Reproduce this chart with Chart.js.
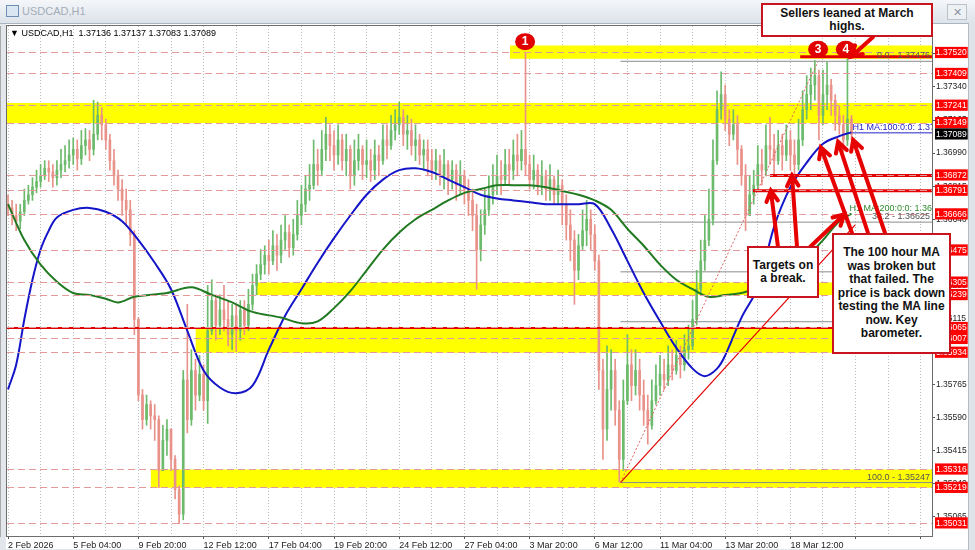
<!DOCTYPE html>
<html>
<head>
<meta charset="utf-8">
<script src="https://cdn.jsdelivr.net/npm/chart.js@4.4.1/dist/chart.umd.min.js"></script>
<style>
  body { margin: 0; background: #fff; }
  #wrap { position: relative; width: 975px; height: 550px; overflow: hidden; font-family: "Liberation Sans", Arial, sans-serif; }
  #c { position: absolute; left: 0; top: 0; }
  #title { position: absolute; left: 0; top: 0; width: 975px; height: 23px; background: linear-gradient(#f4f6f9, #dde3ea); border-bottom: 1px solid #aab3be; }
  #title .ico { position: absolute; left: 6px; top: 5px; width: 11px; height: 10px; border: 1px solid #6f8fb5; background: #dbe6f3; }
  #title .tt { position: absolute; left: 22px; top: 5px; font-size: 11px; color: #a3adb8; }
  #title .x { position: absolute; left: 947px; top: 4px; width: 18px; height: 14px; border: 1px solid #b9c1ca; font-size: 11px; line-height: 14px; text-align: center; color: #8a949f; background: #eef1f4; }
  #info { position: absolute; left: 10px; top: 28px; font-size: 9px; color: #000; white-space: pre; }
  #rframe { position: absolute; left: 968px; top: 23px; width: 7px; height: 527px; background: #dfe4ea; border-left: 1px solid #b3bbc5; }
  .box { position: absolute; box-sizing: border-box; background: #fff; border: 2px solid #c8141e; display: flex; align-items: center; justify-content: center; text-align: center; font-weight: bold; font-size: 12px; line-height: 13.5px; color: #111; }
</style>
</head>
<body>
<div id="wrap">
  <canvas id="c" width="975" height="550"></canvas>
  <div id="title"><span class="ico"></span><span class="tt">USDCAD,H1</span><span class="x">✕</span></div>
  <div id="info">▼ USDCAD,H1  1.37136 1.37137 1.37083 1.37089</div>
  <div id="rframe"></div>
  <div class="box" style="left:761px;top:3px;width:172px;height:34px">Sellers leaned at March<br>highs.</div>
  <div class="box" style="left:747px;top:246px;width:72px;height:52px">Targets on<br>a break.</div>
  <div class="box" style="left:832px;top:233px;width:119px;height:121px">The 100 hour MA<br>was broken but<br>that failed. The<br>price is back down<br>testing the MA line<br>now. Key<br>barometer.</div>
</div>
<script>
// 4-hour candles, first bar 2 Feb 12:00
const timeLabels = ["2 Feb 2026","5 Feb 04:00","9 Feb 20:00","12 Feb 12:00","17 Feb 04:00","19 Feb 20:00","24 Feb 12:00","27 Feb 04:00","3 Mar 20:00","6 Mar 12:00","11 Mar 04:00","13 Mar 20:00","18 Mar 12:00"];
const barsPerLabel = 16;
const firstOpen = 1.3672;
const closes = [
  1.3670,1.3666,1.3663,1.3668,1.3674,1.3677,1.3681,1.3684,
  1.3687,1.3691,1.3689,1.3686,1.3690,1.3693,1.3695,1.3698,
  1.3701,1.3696,1.3703,1.3706,1.3701,1.3709,1.3719,1.3714,
  1.3706,1.3695,1.3687,1.3680,1.3674,1.3669,1.3656,1.3611,
  1.3571,1.3558,1.3566,1.3560,1.3558,1.3531,1.3547,1.3553,
  1.3537,1.3521,1.3508,1.3579,1.3558,1.3584,1.3571,1.3582,
  1.3568,1.3605,1.3621,1.3608,1.3616,1.3611,1.3603,1.3613,
  1.3605,1.3616,1.3608,1.3619,1.3629,1.3635,1.3640,1.3645,
  1.3642,1.3650,1.3645,1.3653,1.3657,1.3649,1.3656,1.3666,
  1.3672,1.3680,1.3682,1.3693,1.3690,1.3701,1.3709,1.3703,
  1.3698,1.3706,1.3695,1.3701,1.3687,1.3695,1.3701,1.3693,
  1.3695,1.3690,1.3698,1.3695,1.3706,1.3703,1.3711,1.3714,
  1.3718,1.3709,1.3711,1.3703,1.3706,1.3698,1.3701,1.3695,
  1.3690,1.3695,1.3687,1.3693,1.3685,1.3690,1.3682,1.3687,
  1.3680,1.3674,1.3666,1.3648,1.3661,1.3669,1.3677,1.3682,
  1.3687,1.3685,1.3693,1.3690,1.3698,1.3695,1.3701,1.3693,
  1.3685,1.3690,1.3682,1.3687,1.3680,1.3685,1.3677,1.3682,
  1.3672,1.3661,1.3653,1.3637,1.3650,1.3658,1.3664,1.3656,
  1.3642,1.3584,1.3553,1.3574,1.3584,1.3563,1.3537,1.3568,
  1.3587,1.3576,1.3584,1.3571,1.3563,1.3555,1.3568,1.3576,
  1.3582,1.3579,1.3587,1.3584,1.3592,1.3587,1.3595,1.3597,
  1.3611,1.3627,1.3642,1.3653,1.3664,1.3695,1.3722,1.3730,
  1.3717,1.3709,1.3714,1.3701,1.3687,1.3666,1.3677,1.3682,
  1.3693,1.3690,1.3703,1.3701,1.3695,1.3703,1.3698,1.3706,
  1.3698,1.3693,1.3706,1.3722,1.3730,1.3735,1.3740,1.3719,
  1.3730,1.3735,1.3727,1.3719,1.3714,1.3706,1.3717,1.37089
];
const highs = [
  1.3677,1.3674,1.3672,1.3672,1.3680,1.3682,1.3686,1.3690,
  1.3693,1.3695,1.3695,1.3693,1.3695,1.3701,1.3703,1.3706,
  1.3707,1.3706,1.3711,1.3712,1.3711,1.3727,1.3726,1.3723,
  1.3717,1.3709,1.3701,1.3690,1.3685,1.3680,1.3674,1.3658,
  1.3612,1.3574,1.3571,1.3568,1.3566,1.3560,1.3555,1.3558,
  1.3553,1.3539,1.3523,1.3584,1.3619,1.3595,1.3590,1.3592,
  1.3587,1.3629,1.3632,1.3624,1.3624,1.3629,1.3621,1.3619,
  1.3619,1.3621,1.3621,1.3627,1.3635,1.3640,1.3648,1.3650,
  1.3653,1.3658,1.3656,1.3661,1.3666,1.3661,1.3664,1.3674,
  1.3682,1.3687,1.3693,1.3706,1.3701,1.3711,1.3718,1.3714,
  1.3711,1.3714,1.3709,1.3709,1.3703,1.3706,1.3709,1.3703,
  1.3706,1.3701,1.3706,1.3703,1.3714,1.3714,1.3719,1.3722,
  1.3726,1.3722,1.3719,1.3717,1.3714,1.3709,1.3706,1.3706,
  1.3701,1.3701,1.3698,1.3701,1.3695,1.3695,1.3693,1.3695,
  1.3690,1.3685,1.3680,1.3672,1.3669,1.3680,1.3687,1.3693,
  1.3698,1.3695,1.3701,1.3701,1.3706,1.3709,1.3711,1.3752,
  1.3698,1.3698,1.3693,1.3695,1.3690,1.3693,1.3687,1.3690,
  1.3685,1.3677,1.3669,1.3658,1.3656,1.3669,1.3674,1.3669,
  1.3661,1.3645,1.3590,1.3597,1.3595,1.3590,1.3568,1.3579,
  1.3603,1.3595,1.3595,1.3590,1.3579,1.3571,1.3579,1.3587,
  1.3592,1.3590,1.3597,1.3595,1.3600,1.3597,1.3603,1.3608,
  1.3621,1.3637,1.3653,1.3666,1.3680,1.3706,1.3732,1.3742,
  1.3735,1.3722,1.3722,1.3719,1.3703,1.3693,1.3687,1.3690,
  1.3703,1.3701,1.3714,1.3718,1.3709,1.3711,1.3709,1.3714,
  1.3711,1.3706,1.3717,1.3732,1.3740,1.3744,1.3748,1.3743,
  1.3743,1.3747,1.3738,1.3730,1.3724,1.3719,1.3749,1.3719
];
const lows = [
  1.3666,1.3661,1.3658,1.3659,1.3666,1.3672,1.3674,1.3678,
  1.3681,1.3685,1.3684,1.3681,1.3682,1.3686,1.3689,1.3691,
  1.3693,1.3690,1.3693,1.3698,1.3695,1.3698,1.3706,1.3706,
  1.3701,1.3690,1.3682,1.3674,1.3666,1.3661,1.3650,1.3603,
  1.3568,1.3553,1.3555,1.3553,1.3547,1.3522,1.3531,1.3539,
  1.3531,1.3516,1.3503,1.3505,1.3551,1.3555,1.3563,1.3568,
  1.3563,1.3556,1.3603,1.3600,1.3603,1.3605,1.3597,1.3595,
  1.3594,1.3600,1.3603,1.3605,1.3616,1.3624,1.3632,1.3635,
  1.3635,1.3640,1.3637,1.3641,1.3648,1.3644,1.3645,1.3653,
  1.3661,1.3668,1.3674,1.3680,1.3682,1.3687,1.3695,1.3695,
  1.3690,1.3693,1.3690,1.3687,1.3680,1.3682,1.3690,1.3685,
  1.3686,1.3684,1.3685,1.3687,1.3693,1.3696,1.3701,1.3706,
  1.3709,1.3703,1.3701,1.3698,1.3695,1.3693,1.3690,1.3687,
  1.3685,1.3685,1.3682,1.3680,1.3677,1.3680,1.3674,1.3677,
  1.3672,1.3666,1.3658,1.3627,1.3642,1.3656,1.3666,1.3672,
  1.3677,1.3677,1.3682,1.3682,1.3685,1.3687,1.3690,1.3687,
  1.3680,1.3680,1.3677,1.3677,1.3674,1.3674,1.3672,1.3672,
  1.3661,1.3653,1.3642,1.3619,1.3632,1.3648,1.3650,1.3648,
  1.3637,1.3574,1.3537,1.3547,1.3563,1.3555,1.3525,1.3531,
  1.3566,1.3568,1.3571,1.3563,1.3555,1.3545,1.3553,1.3566,
  1.3571,1.3574,1.3576,1.3579,1.3582,1.3580,1.3584,1.3590,
  1.3595,1.3608,1.3624,1.3637,1.3650,1.3661,1.3693,1.3717,
  1.3711,1.3703,1.3706,1.3693,1.3682,1.3658,1.3666,1.3672,
  1.3680,1.3682,1.3687,1.3693,1.3687,1.3693,1.3690,1.3695,
  1.3690,1.3686,1.3690,1.3703,1.3717,1.3722,1.3727,1.3706,
  1.3714,1.3722,1.3719,1.3711,1.3709,1.3700,1.3703,1.3706
];

// moving averages (bar index, value)
const ma100Bars = [0,2,4,6,8,10,12,16,20,24,28,32,36,40,44,48,52,56,60,64,68,72,76,80,84,88,92,96,100,104,108,112,116,120,124,128,132,136,140,144,148,152,156,160,164,168,171,174,176,180,184,188,192,196,200,204,207];
const ma100 = [1.3574,1.3587,1.3611,1.3632,1.3648,1.3658,1.3665,1.3669,1.3670,1.3668,1.3663,1.3653,1.3641,1.3627,1.3605,1.3584,1.3575,1.3572,1.3576,1.3595,1.3613,1.3627,1.3641,1.3654,1.3666,1.3677,1.3685,1.3690,1.3691,1.3689,1.3685,1.3681,1.3677,1.3675,1.3674,1.3673,1.3672,1.3672,1.3672,1.3672,1.3659,1.3642,1.3625,1.3610,1.3596,1.3585,1.3581,1.3585,1.3592,1.3612,1.3628,1.3660,1.3681,1.3694,1.3704,1.3708,1.3710];
const ma200Bars = [0,4,8,12,16,20,24,27,31,39,45,50,55,60,67,72,76,80,84,88,92,96,100,104,108,112,116,120,124,128,132,136,140,144,148,152,156,160,164,168,172,176,180,184,188,192,196,200,204,207];
const ma200 = [1.3672,1.3653,1.3640,1.3631,1.3625,1.3624,1.3622,1.3620,1.3623,1.3625,1.3628,1.3624,1.3620,1.3615,1.3612,1.3609,1.3610,1.3617,1.3626,1.3637,1.3648,1.3657,1.3664,1.3669,1.3674,1.3678,1.3680,1.3682,1.3682,1.3682,1.3681,1.3679,1.3677,1.3674,1.3669,1.3659,1.3650,1.3640,1.3632,1.3627,1.3623,1.3624,1.3625,1.3628,1.3632,1.3637,1.3644,1.3653,1.3663,1.3667];

// price axis
const gridPrices = [1.37515,1.37340,1.37165,1.36990,1.36815,1.36640,1.36465,1.36290,1.36115,1.35940,1.35765,1.35590,1.35415,1.35240,1.35065];
const levelPrices = [1.37520,1.37409,1.37241,1.37149,1.36872,1.36791,1.36666,1.36475,1.36305,1.36239,1.36065,1.36007,1.35934,1.35316,1.35219,1.35031];
const lastPrice = 1.37089;

// yellow zones
const bandTop = [1.3756,1.37255,1.36305,1.36065,1.35316];
const bandBottom = [1.3749,1.37149,1.36239,1.35934,1.35219];
const bandFromBar = [123.2,-0.25,61,46,35];

// red horizontal segments
const redLinePrices = [1.3750,1.36872,1.36791];
const redLineFromBar = [194.4,187,182.8];
const breakLine = 1.36065;

// fibonacci from the 6 Mar low to the March high
const fibNames = ["0.0","38.2","50.0","61.8","100.0"];
const fibLevels = [1.37476,1.36625,1.36362,1.36098,1.35247];
const fibFromBar = 150.3;
const fibLineBars = [150.3,198.8];
const fibLinePrices = [1.35247,1.37476];
const trendBars = [150.3,207.9];
const trendPrices = [1.35247,1.3661];

const markerBars = [126.9,198.8,205.6];
const markerPrices = [1.3758,1.3754,1.3754];
const markerText = ["1","3","4"];

const arrowHeadBars = [206.9,187.2,192.4,205.2,199.5,203.7,207.4];
const arrowHeadPrices = [1.3750,1.36791,1.36872,1.36666,1.3702,1.3705,1.3706];
const arrowTails = [[873,37],[778,247],[797,247],[810,247],[852,233],[868,233],[885,233]];

const xMin = -0.25, xMax = 226.75;
const opens = closes.map((c, i) => i ? closes[i - 1] : firstOpen);
const upCol = '#6cba6c', dnCol = '#e8928a';
const candleCol = closes.map((c, i) => c >= opens[i] ? upCol : dnCol);

const seg = (x0, x1, v) => [{x: x0, y: v}, {x: x1, y: v}];
const datasets = [];

bandTop.forEach((t, k) => {
  datasets.push({type: 'line', data: seg(bandFromBar[k], xMax, t), borderColor: 'rgba(0,0,0,0)', pointRadius: 0, fill: false, order: 20});
  datasets.push({type: 'line', data: seg(bandFromBar[k], xMax, bandBottom[k]), borderColor: 'rgba(0,0,0,0)', pointRadius: 0, fill: '-1', backgroundColor: '#ffff00', order: 20});
});
fibLevels.forEach(v => {
  datasets.push({type: 'line', data: seg(fibFromBar, xMax, v), borderColor: '#8c8c8c', borderWidth: 1, pointRadius: 0, order: 15});
});
datasets.push({
  type: 'bar', order: 10, grouped: false, barThickness: 1,
  data: closes.map((c, i) => ({x: i, y: [Math.min(lows[i], opens[i], c), Math.max(highs[i], opens[i], c)]})),
  backgroundColor: candleCol
});
datasets.push({
  type: 'bar', order: 9, grouped: false, barThickness: 2, minBarLength: 1,
  data: closes.map((c, i) => ({x: i, y: [opens[i], c]})),
  backgroundColor: candleCol
});
datasets.push({type: 'line', data: ma200Bars.map((b, k) => ({x: b, y: ma200[k]})), borderColor: '#217a21', borderWidth: 2, pointRadius: 0, tension: 0.35, order: 5});
datasets.push({type: 'line', data: ma100Bars.map((b, k) => ({x: b, y: ma100[k]})), borderColor: '#1414c8', borderWidth: 2, pointRadius: 0, tension: 0.35, order: 5});
redLinePrices.forEach((v, k) => {
  datasets.push({type: 'line', data: seg(redLineFromBar[k], xMax, v), borderColor: '#e30000', borderWidth: 3, pointRadius: 0, order: 3});
});
datasets.push({type: 'line', data: seg(xMin, xMax, breakLine), borderColor: '#e30000', borderWidth: 2, pointRadius: 0, order: 3});
datasets.push({type: 'line', data: fibLineBars.map((b, k) => ({x: b, y: fibLinePrices[k]})), borderColor: '#e06060', borderWidth: 1, borderDash: [2, 2], pointRadius: 0, order: 3});
datasets.push({type: 'line', data: trendBars.map((b, k) => ({x: b, y: trendPrices[k]})), borderColor: '#e30000', borderWidth: 1.2, pointRadius: 0, order: 3});

function arrow(ctx, x1, y1, x2, y2) {
  const a = Math.atan2(y2 - y1, x2 - x1), hl = 12, spread = 0.5;
  ctx.strokeStyle = '#e60000';
  ctx.lineWidth = 4;
  ctx.lineCap = 'round';
  ctx.beginPath();
  ctx.moveTo(x1, y1); ctx.lineTo(x2, y2);
  ctx.moveTo(x2 - hl * Math.cos(a - spread), y2 - hl * Math.sin(a - spread));
  ctx.lineTo(x2, y2);
  ctx.lineTo(x2 - hl * Math.cos(a + spread), y2 - hl * Math.sin(a + spread));
  ctx.stroke();
}

const mtPlugin = {
  id: 'mt',
  beforeDraw(chart) {
    const {ctx, width, height} = chart;
    ctx.save();
    ctx.fillStyle = '#e3e7ec';
    ctx.fillRect(0, 0, width, height);
    ctx.fillStyle = '#fff';
    ctx.fillRect(6, 24, 962, 525);
    ctx.restore();
  },
  afterDraw(chart) {
    const {ctx, chartArea: a, scales: {x, y}} = chart;
    ctx.save();
    ctx.strokeStyle = '#6d6d6d';
    ctx.lineWidth = 1;
    ctx.strokeRect(a.left - 0.5, a.top - 0.5, a.right - a.left + 1, a.bottom - a.top + 1);
    ctx.beginPath();
    ctx.rect(a.left, a.top, a.right - a.left, a.bottom - a.top);
    ctx.clip();

    ctx.font = '9px "Liberation Sans"';
    ctx.textAlign = 'right';
    ctx.textBaseline = 'bottom';
    ctx.fillStyle = '#555';
    fibLevels.forEach((v, k) => ctx.fillText(fibNames[k] + ' - ' + v.toFixed(5), a.right - 2, y.getPixelForValue(v) - 1));

    ctx.textAlign = 'left';
    const bx = x.getPixelForValue(ma100Bars[ma100Bars.length - 1]);
    const by = y.getPixelForValue(ma100[ma100.length - 1]);
    ctx.fillStyle = '#2424c8';
    ctx.fillText('H1 MA:100:0:0: 1.37089', bx + 1, by);
    ctx.fillRect(bx + 1, by, ctx.measureText('H1 MA:100:0:0: 1.37089').width, 1);
    const gx = x.getPixelForValue(ma200Bars[ma200Bars.length - 1]);
    const gy = y.getPixelForValue(ma200[ma200.length - 1]);
    ctx.fillStyle = '#2e8b2e';
    ctx.fillText('H1 MA:200:0:0: 1.36675', gx - 2, gy - 1);

    ctx.font = 'bold 12px "Liberation Sans"';
    ctx.textAlign = 'center';
    ctx.textBaseline = 'middle';
    markerBars.forEach((b, k) => {
      const px = x.getPixelForValue(b), py = y.getPixelForValue(markerPrices[k]);
      ctx.fillStyle = '#e10000';
      ctx.beginPath();
      ctx.ellipse(px, py, 10, 8.5, 0, 0, Math.PI * 2);
      ctx.fill();
      ctx.fillStyle = '#fff';
      ctx.fillText(markerText[k], px, py + 0.5);
    });
    ctx.restore();

    ctx.save();
    arrowHeadBars.forEach((b, k) => {
      arrow(ctx, arrowTails[k][0], arrowTails[k][1], x.getPixelForValue(b), y.getPixelForValue(arrowHeadPrices[k]));
    });
    ctx.restore();
  }
};

new Chart(document.getElementById('c'), {
  type: 'bar',
  data: {datasets: datasets},
  options: {
    responsive: false,
    animation: false,
    devicePixelRatio: 1,
    events: [],
    layout: {padding: {left: 7, top: 26, right: 7, bottom: 1}},
    plugins: {legend: {display: false}, tooltip: {enabled: false}},
    scales: {
      x: {
        type: 'linear', min: xMin, max: xMax, bounds: 'data', offset: false,
        afterBuildTicks: ax => {
          const t = [];
          for (let v = 0; v <= 224; v += barsPerLabel / 2) t.push({value: v});
          ax.ticks = t;
        },
        afterFit: ax => { ax.height = 13; },
        ticks: {
          autoSkip: false, maxRotation: 0, minRotation: 0, align: 'start', padding: 1,
          color: '#222', font: {family: 'Liberation Sans', size: 9},
          callback: v => (v % barsPerLabel === 0 && timeLabels[v / barsPerLabel]) ? timeLabels[v / barsPerLabel] : ''
        },
        grid: {
          offset: false, color: '#bdbdbd', lineWidth: 1, tickLength: 3,
          tickColor: c => (c.tick && c.tick.value % barsPerLabel === 0) ? '#555' : 'rgba(0,0,0,0)'
        },
        border: {display: true, color: '#6d6d6d', dash: [1, 2]}
      },
      y: {
        type: 'linear', position: 'right', min: 1.349643, max: 1.376627, bounds: 'data', beginAtZero: false,
        afterBuildTicks: ax => {
          ax.ticks = gridPrices.map(v => ({value: v, kind: 'grid'}))
            .concat(levelPrices.map(v => ({value: v, kind: 'level'})))
            .concat([{value: lastPrice, kind: 'last'}]);
        },
        afterFit: ax => { ax.width = 36; },
        ticks: {
          autoSkip: false, padding: 1, crossAlign: 'near', z: 1,
          font: {family: 'Liberation Sans', size: 8.5},
          color: c => (c.tick && c.tick.kind !== 'grid') ? '#fff' : '#222',
          showLabelBackdrop: c => !!(c.tick && c.tick.kind !== 'grid'),
          backdropColor: c => (c.tick && c.tick.kind === 'last') ? '#000' : '#f00',
          backdropPadding: {left: 1, right: 1, top: 1, bottom: 0},
          callback: v => v.toFixed(5)
        },
        grid: {
          z: 1, tickLength: 3,
          color: c => (c.tick && c.tick.kind === 'level') ? '#e49a9a' : 'rgba(0,0,0,0)',
          tickColor: c => (c.tick && c.tick.kind === 'grid') ? '#555' : 'rgba(0,0,0,0)'
        },
        border: {display: true, color: '#6d6d6d', dash: [7, 4]}
      }
    }
  },
  plugins: [mtPlugin]
});
</script>
</body>
</html>
